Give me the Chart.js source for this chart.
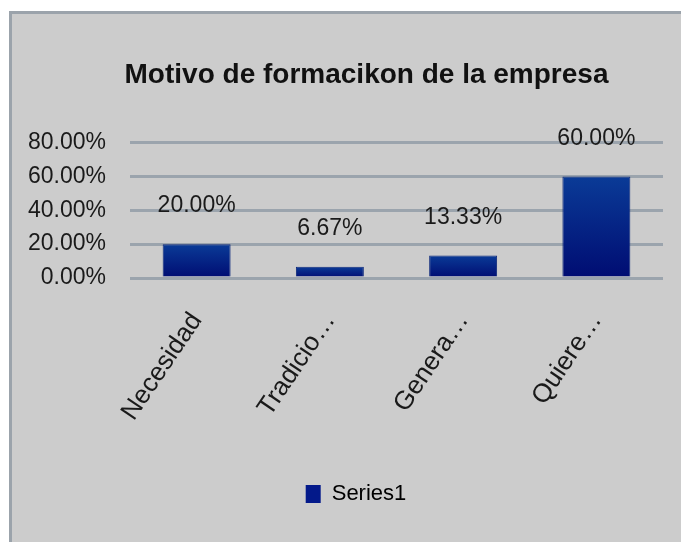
<!DOCTYPE html>
<html>
<head>
<meta charset="utf-8">
<title>Motivo de formacikon de la empresa</title>
<script src="https://cdn.jsdelivr.net/npm/chart.js@4/dist/chart.umd.min.js"></script>
<style>
  html, body { margin: 0; padding: 0; background: #fff; }
  .frame {
    position: absolute; left: 9px; top: 11px; width: 672px; height: 531px;
    background: #cccccc; border-left: 3px solid #9ba3ab; border-top: 3px solid #9ba3ab;
  }
  .wrap { position: absolute; left: 0; top: 0; width: 681px; height: 542px; }
</style>
</head>
<body>
<div class="frame"></div>
<div class="wrap"><canvas id="chart" width="681" height="542"></canvas></div>
<script>
const categories = ['Necesidad', 'Tradicio…', 'Genera…', 'Quiere…'];
const seriesName = 'Series1';
const values = [0.2, 0.0667, 0.1333, 0.6];
const yTicks = [0, 0.2, 0.4, 0.6, 0.8];

const FONT = "'Liberation Sans', Arial, sans-serif";
const pct = v => (v * 100).toFixed(2) + '%';

// per-bar vertical gradient, like the Excel fill
function barFill(context) {
  const chart = context.chart;
  const y = chart.scales.y;
  if (!y || context.type !== 'data') return '#002a8c';
  const top = y.getPixelForValue(context.raw);
  const bottom = y.getPixelForValue(0);
  if (!isFinite(top) || top === bottom) return '#002a8c';
  const g = chart.ctx.createLinearGradient(0, top, 0, bottom);
  g.addColorStop(0, '#0a3b97');
  g.addColorStop(1, '#000c72');
  return g;
}

// value labels above each bar
const valueLabels = {
  id: 'valueLabels',
  afterDatasetsDraw(chart) {
    const ctx = chart.ctx;
    const meta = chart.getDatasetMeta(0);
    ctx.save();
    ctx.font = '23px ' + FONT;
    ctx.fillStyle = '#1a1a1a';
    ctx.textAlign = 'center';
    ctx.textBaseline = 'middle';
    meta.data.forEach((bar, i) => {
      ctx.fillText(pct(values[i]), bar.x, bar.y - 38);
    });
    ctx.restore();
  }
};

// the original centres title and legend a bit right of the canvas middle
const shiftBlocks = {
  id: 'shiftBlocks',
  afterLayout(chart) {
    if (chart.titleBlock) chart.titleBlock.left = 70;
    if (chart.legend) chart.legend.left = 49;
  }
};

new Chart(document.getElementById('chart'), {
  type: 'bar',
  data: {
    labels: categories,
    datasets: [{
      label: seriesName,
      data: values,
      backgroundColor: barFill,
      borderColor: '#0f2a7c',
      borderWidth: 1,
      barPercentage: 0.51,
      categoryPercentage: 1
    }]
  },
  options: {
    responsive: false,
    animation: false,
    layout: { padding: { left: 12, right: 18, top: 58, bottom: 27 } },
    plugins: {
      title: {
        display: true,
        text: 'Motivo de formacikon de la empresa',
        color: '#111',
        font: { family: FONT, size: 28, weight: 'bold' },
        padding: { top: 0, bottom: 51 }
      },
      legend: {
        position: 'bottom',
        labels: {
          color: '#1a1a1a',
          font: { family: FONT, size: 22 },
          boxWidth: 15,
          boxHeight: 18,
          padding: 10,
          generateLabels: chart => [{
            text: seriesName,
            fillStyle: '#03198a',
            strokeStyle: '#03198a',
            lineWidth: 0,
            datasetIndex: 0
          }]
        }
      },
      tooltip: { enabled: false }
    },
    scales: {
      x: {
        grid: { display: false },
        border: { display: false },
        ticks: {
          color: '#1a1a1a',
          font: { family: FONT, size: 26 },
          minRotation: 56,
          maxRotation: 56,
          padding: 21,
          autoSkip: false
        },
        afterFit: scale => { scale.height = 195; }
      },
      y: {
        min: 0,
        max: 0.8,
        afterBuildTicks: scale => { scale.ticks = yTicks.map(v => ({ value: v })); },
        grid: { color: '#9ba4ad', lineWidth: 3, drawTicks: false },
        border: { display: false },
        ticks: {
          color: '#1a1a1a',
          font: { family: FONT, size: 23 },
          padding: 24,
          callback: v => pct(v)
        },
        afterFit: scale => { scale.width = 118; }
      }
    }
  },
  plugins: [valueLabels, shiftBlocks]
});
</script>
</body>
</html>
